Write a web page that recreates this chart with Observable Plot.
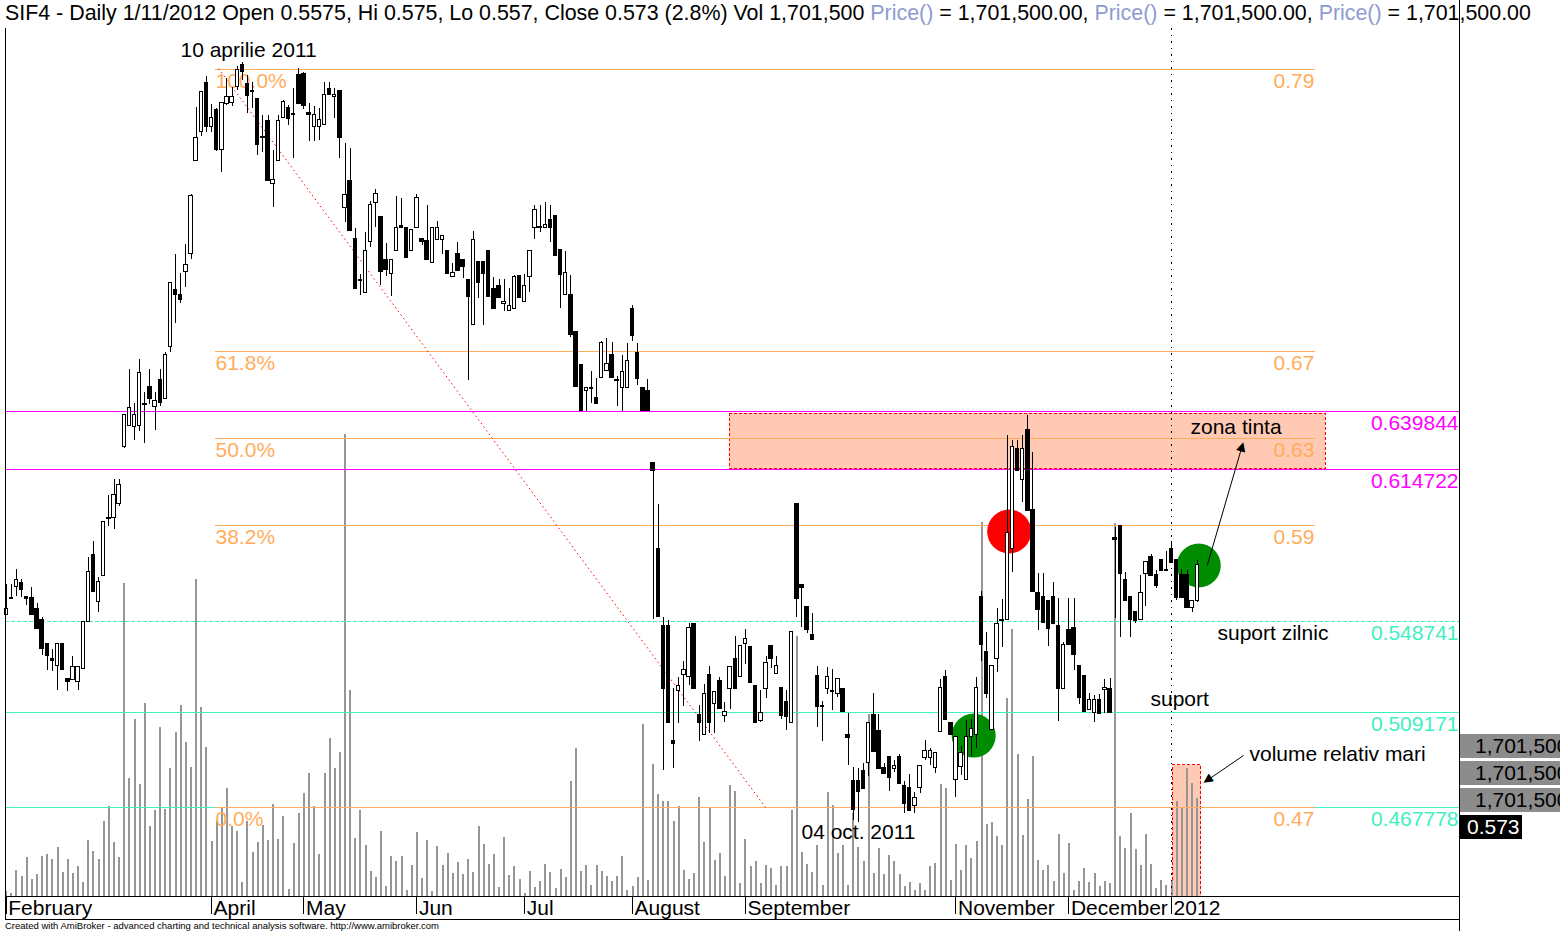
<!DOCTYPE html>
<html>
<head>
<meta charset="utf-8">
<script src="https://cdn.jsdelivr.net/npm/d3@7"></script>
<script src="https://cdn.jsdelivr.net/npm/@observablehq/plot@0.6"></script>
<style>
  html, body { margin: 0; padding: 0; background: #fff; }
  #chart { position: relative; width: 1560px; height: 931px; overflow: hidden; background: #fff; font-family: Arial, "Liberation Sans", sans-serif; }
  #chart svg { position: absolute; left: 0; top: 0; }
  #title { position: absolute; left: 5px; top: 1px; font-size: 21.4px; line-height: 24px; white-space: nowrap; color: #000; }
  #title .fn { color: #8e9bd2; }
  #credit { position: absolute; left: 5px; top: 920px; font-size: 9.5px; line-height: 11px; white-space: nowrap; color: #000; }
  .chip { position: absolute; left: 1460px; height: 24px; line-height: 24px; font-size: 21px; padding-left: 15px; box-sizing: border-box; white-space: nowrap; overflow: hidden; }
  #rborder { position: absolute; left: 1459px; top: 0; width: 1px; height: 931px; background: #000; }
</style>
</head>
<body>
<div id="chart"></div>
<script>
// ---------------- data ----------------
const opens = [
0.5515,0.5589,0.5635,0.5654,0.5594,0.5590,0.5542,0.5494,0.5386,0.5325,
0.5292,0.5386,0.5238,0.5230,0.5225,0.5279,0.5484,0.5776,0.5571,0.5682,
0.5937,0.5937,0.5998,0.6244,0.6337,0.6333,0.6337,0.6430,0.6507,0.6420,
0.6537,0.6454,0.6677,0.6927,0.6906,0.7006,0.7084,0.7488,0.7615,0.7827,
0.7636,0.7710,0.7536,0.7736,0.7737,0.7807,0.7906,0.7823,0.7791,0.7755,
0.7591,0.7662,0.7388,0.7488,0.7675,0.7718,0.7692,0.7859,0.7866,0.7697,
0.7637,0.7634,0.7645,0.7800,0.7766,0.7790,0.7284,0.7398,0.7147,0.6969,
0.6915,0.7137,0.7306,0.7245,0.7059,0.6997,0.7098,0.7203,0.7197,0.7098,
0.7197,0.7147,0.7138,0.7045,0.7145,0.7145,0.7098,0.6984,0.7084,0.7059,
0.6968,0.6775,0.7046,0.7046,0.7098,0.6929,0.6946,0.6865,0.6836,0.6845,
0.6986,0.6875,0.6984,0.7197,0.7202,0.7197,0.7229,0.7247,0.7099,0.6906,
0.6903,0.6746,0.6599,0.6489,0.6502,0.6457,0.6545,0.6575,0.6642,0.6536,
0.6499,0.6502,0.6846,0.6651,0.6499,0.6486,0.6176,0.5799,0.5468,0.5468,
0.4965,0.5185,0.5255,0.5244,0.5477,0.5081,0.4994,0.5255,0.5129,0.5226,
0.5076,0.5193,0.5321,0.5246,0.5386,0.5376,0.5207,0.5055,0.5193,0.5380,
0.5259,0.5195,0.5137,0.5046,0.5998,0.5645,0.5547,0.5425,0.5247,0.5118,
0.5192,0.5183,0.5172,0.5193,0.4994,0.4794,0.4794,0.4838,0.4872,0.5078,
0.5008,0.4847,0.4895,0.4846,0.4895,0.4773,0.4764,0.4685,0.4763,0.4894,
0.4894,0.4850,0.5007,0.5243,0.5043,0.4798,0.4854,0.4798,0.4984,0.4991,
0.5591,0.5355,0.5013,0.5321,0.5494,0.5492,0.5799,0.6237,0.6099,0.6316,
0.5969,0.5609,0.5594,0.5577,0.5594,0.5468,0.5193,0.5447,0.5458,0.5294,
0.5247,0.5103,0.5088,0.5146,0.5186,0.5193,0.5849,0.5899,0.5668,0.5594,
0.5527,0.5492,0.5693,0.5768,0.5686,0.5754,0.5708,0.5799,0.5754,0.5686,
0.5686,0.5546,0.5575];

const highs = [
0.5647,0.5647,0.5712,0.5668,0.5594,0.5633,0.5564,0.5503,0.5386,0.5362,
0.5386,0.5386,0.5238,0.5334,0.5286,0.5484,0.5764,0.5833,0.5675,0.5920,
0.6034,0.6103,0.6103,0.6385,0.6580,0.6434,0.6624,0.6483,0.6580,0.6483,
0.6580,0.6654,0.6958,0.7081,0.6997,0.7124,0.7342,0.7721,0.7790,0.7855,
0.7733,0.7715,0.7740,0.7846,0.7807,0.7898,0.7916,0.7859,0.7830,0.7758,
0.7685,0.7685,0.7533,0.7685,0.7750,0.7728,0.7801,0.7888,0.7870,0.7736,
0.7726,0.7714,0.7830,0.7830,0.7804,0.7790,0.7562,0.7541,0.7193,0.6993,
0.7176,0.7312,0.7362,0.7245,0.7127,0.7058,0.7334,0.7324,0.7197,0.7186,
0.7342,0.7147,0.7294,0.7197,0.7225,0.7160,0.7098,0.7041,0.7132,0.7059,
0.6968,0.7181,0.7046,0.7046,0.7098,0.6981,0.6974,0.6972,0.6933,0.6990,
0.6986,0.6993,0.7098,0.7294,0.7294,0.7306,0.7294,0.7247,0.7099,0.7095,
0.6990,0.6746,0.6599,0.6504,0.6573,0.6541,0.6702,0.6716,0.6697,0.6551,
0.6642,0.6694,0.6859,0.6694,0.6499,0.6538,0.6176,0.5995,0.5502,0.5490,
0.5194,0.5244,0.5313,0.5478,0.5477,0.5121,0.5211,0.5291,0.5181,0.5242,
0.5134,0.5290,0.5421,0.5380,0.5451,0.5376,0.5207,0.5186,0.5334,0.5380,
0.5334,0.5195,0.5186,0.5440,0.5998,0.5645,0.5547,0.5519,0.5291,0.5139,
0.5286,0.5276,0.5240,0.5193,0.5086,0.4852,0.4847,0.4868,0.5046,0.5172,
0.5082,0.4869,0.4895,0.4882,0.4908,0.4791,0.4820,0.4743,0.4856,0.4969,
0.4934,0.4916,0.5234,0.5273,0.5043,0.4984,0.4943,0.5056,0.5060,0.5244,
0.5617,0.5438,0.5292,0.5541,0.5581,0.6295,0.6273,0.6273,0.6295,0.6382,
0.6219,0.5693,0.5693,0.5577,0.5654,0.5587,0.5396,0.5587,0.5587,0.5294,
0.5247,0.5172,0.5165,0.5168,0.5233,0.5238,0.5896,0.5899,0.5700,0.5594,
0.5527,0.5686,0.5744,0.5777,0.5708,0.5754,0.5792,0.5832,0.5754,0.5711,
0.5708,0.5575,0.5750];

const lows = [
0.5513,0.5584,0.5596,0.5590,0.5557,0.5515,0.5452,0.5338,0.5273,0.5270,
0.5186,0.5275,0.5183,0.5230,0.5186,0.5279,0.5484,0.5613,0.5526,0.5682,
0.5900,0.5884,0.5987,0.6237,0.6337,0.6273,0.6312,0.6259,0.6427,0.6315,
0.6420,0.6454,0.6656,0.6780,0.6869,0.6939,0.7060,0.7488,0.7594,0.7612,
0.7611,0.7530,0.7439,0.7730,0.7725,0.7794,0.7837,0.7694,0.7714,0.7511,
0.7526,0.7401,0.7287,0.7488,0.7675,0.7642,0.7497,0.7736,0.7711,0.7572,
0.7572,0.7577,0.7645,0.7775,0.7671,0.7498,0.7218,0.7184,0.6931,0.6902,
0.6915,0.7109,0.7200,0.6946,0.6987,0.6900,0.7098,0.7195,0.7065,0.7098,
0.7197,0.7118,0.7056,0.7045,0.7145,0.7080,0.6996,0.6984,0.7010,0.6978,
0.6534,0.6775,0.6889,0.6771,0.6897,0.6843,0.6891,0.6832,0.6836,0.6845,
0.6891,0.6875,0.6917,0.7148,0.7177,0.7197,0.7135,0.7073,0.6848,0.6906,
0.6722,0.6504,0.6399,0.6399,0.6435,0.6432,0.6545,0.6575,0.6544,0.6418,
0.6399,0.6502,0.6704,0.6513,0.6399,0.6399,0.5494,0.5504,0.4838,0.5044,
0.4848,0.5042,0.5118,0.5208,0.5193,0.4966,0.4994,0.4998,0.4998,0.5105,
0.5049,0.5104,0.5192,0.5246,0.5299,0.5220,0.5044,0.5049,0.5150,0.5280,
0.5259,0.5059,0.5010,0.5046,0.5504,0.5460,0.5432,0.5405,0.5027,0.4965,
0.5168,0.5097,0.5155,0.5092,0.4860,0.4621,0.4613,0.4756,0.4812,0.4919,
0.4844,0.4822,0.4748,0.4830,0.4779,0.4650,0.4662,0.4650,0.4740,0.4882,
0.4860,0.4824,0.5007,0.5056,0.4991,0.4720,0.4817,0.4798,0.4897,0.4934,
0.5314,0.5150,0.5013,0.5262,0.5374,0.5492,0.5698,0.6138,0.6005,0.5966,
0.5613,0.5447,0.5478,0.5377,0.5473,0.5053,0.5193,0.5385,0.5273,0.5126,
0.5092,0.5103,0.5049,0.5085,0.5085,0.5088,0.5497,0.5418,0.5573,0.5418,
0.5478,0.5492,0.5551,0.5682,0.5628,0.5704,0.5704,0.5738,0.5577,0.5587,
0.5546,0.5527,0.5570];

const closes = [
0.5541,0.5584,0.5668,0.5622,0.5583,0.5515,0.5452,0.5365,0.5334,0.5314,
0.5386,0.5275,0.5222,0.5286,0.5286,0.5484,0.5702,0.5613,0.5658,0.5920,
0.5933,0.6037,0.6077,0.6385,0.6415,0.6385,0.6567,0.6426,0.6454,0.6446,
0.6437,0.6646,0.6958,0.6906,0.6884,0.7036,0.7336,0.7586,0.7788,0.7634,
0.7675,0.7536,0.7738,0.7764,0.7766,0.7881,0.7873,0.7769,0.7787,0.7557,
0.7587,0.7401,0.7406,0.7662,0.7744,0.7668,0.7688,0.7736,0.7726,0.7685,
0.7688,0.7666,0.7775,0.7775,0.7776,0.7587,0.7338,0.7184,0.6931,0.6965,
0.7098,0.7297,0.7345,0.7006,0.7013,0.7058,0.7197,0.7195,0.7065,0.7186,
0.7328,0.7135,0.7056,0.7197,0.7197,0.7160,0.6996,0.7001,0.7010,0.7026,
0.6897,0.7142,0.6956,0.6996,0.6897,0.6843,0.6891,0.6875,0.6858,0.6981,
0.6891,0.6945,0.7098,0.7273,0.7198,0.7207,0.7197,0.7073,0.6992,0.6999,
0.6730,0.6504,0.6399,0.6499,0.6498,0.6432,0.6698,0.6603,0.6544,0.6532,
0.6572,0.6616,0.6726,0.6540,0.6399,0.6399,0.6142,0.5504,0.5193,0.5044,
0.4953,0.5207,0.5277,0.5458,0.5193,0.5044,0.5172,0.5044,0.5181,0.5105,
0.5092,0.5290,0.5192,0.5380,0.5411,0.5220,0.5044,0.5086,0.5307,0.5322,
0.5294,0.5076,0.5072,0.5440,0.5584,0.5632,0.5451,0.5405,0.5114,0.5114,
0.5246,0.5179,0.5237,0.5092,0.4980,0.4665,0.4744,0.4756,0.5046,0.4919,
0.4844,0.4822,0.4805,0.4856,0.4779,0.4692,0.4662,0.4720,0.4856,0.4921,
0.4925,0.4916,0.5195,0.5056,0.4991,0.4984,0.4916,0.4982,0.5017,0.5195,
0.5385,0.5169,0.5292,0.5476,0.5486,0.5872,0.6244,0.6138,0.6237,0.5966,
0.5613,0.5537,0.5478,0.5453,0.5473,0.5193,0.5385,0.5385,0.5341,0.5155,
0.5092,0.5146,0.5146,0.5085,0.5195,0.5088,0.5839,0.5693,0.5573,0.5492,
0.5490,0.5609,0.5744,0.5682,0.5639,0.5704,0.5704,0.5738,0.5587,0.5587,
0.5546,0.5575,0.5730];

const volumes = [
87000,47000,450000,346000,670000,294000,381000,692000,727000,640000,
848000,415000,635000,393000,519000,242000,964000,779000,635000,1298000,
1558000,935000,675000,5413000,2037000,3064000,1934000,3341000,1212000,1489000,
2925000,1506000,2216000,2839000,3306000,2666000,2233000,5482000,3277000,2579000,
957000,1298000,1523000,1869000,1206000,1125000,242000,1293000,762000,935000,
1234000,969000,1593000,992000,1385000,126000,917000,1442000,1783000,2134000,
1563000,727000,2134000,2735000,2216000,2498000,7997000,3566000,1009000,1489000,
883000,433000,334000,1125000,178000,698000,606000,698000,104000,542000,
1108000,312000,969000,87000,871000,537000,744000,403000,589000,381000,
646000,421000,1212000,900000,559000,727000,156000,1026000,364000,519000,
289000,57000,428000,156000,260000,554000,415000,138000,467000,329000,
1996000,2557000,433000,537000,190000,537000,433000,346000,260000,346000,
692000,104000,173000,334000,2977000,277000,2285000,1766000,1644000,1644000,
1298000,1558000,450000,294000,403000,1708000,935000,1518000,623000,739000,
346000,1921000,1818000,220000,981000,519000,606000,220000,537000,479000,
190000,519000,519000,1489000,4501000,767000,549000,421000,878000,190000,
1800000,1575000,750000,878000,190000,1432000,853000,606000,3150000,403000,
836000,376000,710000,606000,376000,173000,248000,104000,220000,104000,
519000,576000,1934000,1864000,277000,895000,450000,883000,663000,952000,
6479000,1246000,1286000,1039000,883000,3422000,4622000,2453000,1056000,1674000,
2423000,623000,450000,537000,260000,1068000,403000,923000,104000,260000,
479000,248000,393000,173000,260000,220000,6451000,1039000,836000,1432000,
808000,537000,1068000,549000,144000,277000,190000,277000,1650000,1546000,
2210000,1951000,1701500];

// month axis: bar index of the first session of each labelled month
const monthTickIdx = [0, 40, 58, 80, 101, 122, 144, 185, 207, 227];
const monthLabels = ["February", "April", "May", "Jun", "Jul", "August", "September", "November", "December", "2012"];

// Fibonacci retracement drawn from the April high to the October low
const fibRatios = ["100.0%", "61.8%", "50.0%", "38.2%", "0.0%"];
const fibValues = [0.7885, 0.6660, 0.6281, 0.5903, 0.4678];
const fibValueLabels = ["0.79", "0.67", "0.63", "0.59", "0.47"];
const fibSpan = [40.77, 255.0];          // bar positions where the study lines start / end
const fibTrend = [{x1: 41.35, y1: 0.7889, x2: 147.9, y2: 0.4678}];

// horizontal study levels
const levelValues = [0.639844, 0.614722, 0.548741, 0.509171, 0.467778];
const levelColors = ["#ff00ff", "#ff00ff", "#40f0c0", "#40f0c0", "#40f0c0"];
const levelDashed = [false, false, true, false, false];

// rectangles
const targetZone = [{x1: 140.9, x2: 257.0, y1: 0.614722, y2: 0.6388}];
const volumeZone = [{x1: 227.2, x2: 232.8, y1: 0, y2: 2270000}];

// circles
const circles = [
  {x: 195.36, y: 0.5877, color: "#ff0000"},
  {x: 188.45, y: 0.4990, color: "#008c00"},
  {x: 232.29, y: 0.5729, color: "#008c00"}
];

// notes
const notes = [
  {x: 33.95, y: 0.7970, text: "10 aprilie 2011"},
  {x: 154.9, y: 0.4569, text: "04 oct. 2011"},
  {x: 230.68, y: 0.6329, text: "zona tinta"},
  {x: 235.94, y: 0.5434, text: "suport zilnic"},
  {x: 222.88, y: 0.5147, text: "suport"},
  {x: 242.17, y: 0.4908, text: "volume relativ mari"}
];

// arrows (start -> head)
const arrows = [
  {x1: 233.93, y1: 0.57291, hx: 240.73, hy: 0.62472, angle: 16.3},
  {x1: 241.0, y1: 0.49035, hx: 233.92, hy: 0.47953, angle: -124.4}
];

const yearSeparator = [227];

// ---------------- build ----------------
const candles = opens.map((open, i) => ({i, open, high: highs[i], low: lows[i], close: closes[i], volume: volumes[i]}));
const months = monthTickIdx.map((i, k) => ({i, label: monthLabels[k]}));
const fibs = fibValues.map((value, k) => ({value, ratio: fibRatios[k], label: fibValueLabels[k]}));
const levels = levelValues.map((value, k) => ({value, color: levelColors[k], dashed: levelDashed[k]}));

const W = 1560, H = 931;
const xDomain = [-0.136, 283.27];
const priceDomain = [0.419073, 0.806292];
const volumeDomain = [0, 15025000];
const orange = "#ffad5b";
const font = "Arial, 'Liberation Sans', sans-serif";
const style = {background: "transparent", overflow: "visible", fontFamily: font};
const crisp = "crispEdges";

const volPlot = Plot.plot({
  width: W, height: H, marginLeft: 5, marginRight: 100, marginTop: 28, marginBottom: 35,
  x: {domain: xDomain, axis: null},
  y: {domain: volumeDomain, range: [896, 28], axis: null},
  style,
  marks: [
    Plot.rect(volumeZone, {x1: "x1", x2: "x2", y1: "y1", y2: "y2", fill: "#ffc9b4", stroke: "#ff0000", strokeDasharray: "3,2", shapeRendering: crisp}),
    Plot.ruleX(candles, {x: "i", y1: () => 0, y2: "volume", stroke: "#969696", strokeWidth: 2, shapeRendering: crisp}),
    Plot.ruleY([0], {stroke: "#000", shapeRendering: crisp})
  ]
});

const pricePlot = Plot.plot({
  width: W, height: H, marginLeft: 5, marginRight: 100, marginTop: 28, marginBottom: 12,
  x: {domain: xDomain, axis: null},
  y: {domain: priceDomain, axis: null},
  color: {type: "identity"},
  style,
  marks: [
    Plot.rect(targetZone, {x1: "x1", x2: "x2", y1: "y1", y2: "y2", fill: "#ffc9b4", shapeRendering: crisp}),
    Plot.ruleY(levels.filter(d => !d.dashed), {y: "value", stroke: "color", shapeRendering: crisp}),
    Plot.ruleY(levels.filter(d => d.dashed), {y: "value", stroke: "color", strokeDasharray: "4,2", shapeRendering: crisp}),
    Plot.rect(targetZone, {x1: "x1", x2: "x2", y1: "y1", y2: "y2", fill: "none", stroke: "#ff0000", strokeDasharray: "3,2", shapeRendering: crisp}),
    Plot.ruleY(fibs, {y: "value", x1: () => fibSpan[0], x2: () => fibSpan[1], stroke: orange, shapeRendering: crisp}),
    Plot.link(fibTrend, {x1: "x1", y1: "y1", x2: "x2", y2: "y2", stroke: "#ff0000", strokeDasharray: "1.5,3"}),
    Plot.text(fibs, {x: () => fibSpan[0], y: "value", text: "ratio", textAnchor: "start", dy: 12, fill: orange, fontSize: 21}),
    Plot.text(fibs, {x: () => fibSpan[1], y: "value", text: "label", textAnchor: "end", dx: -1, dy: 12, fill: orange, fontSize: 21}),
    Plot.text(levels, {y: "value", text: d => d.value.toFixed(6), frameAnchor: "right", textAnchor: "end", dx: -2, dy: 12, fill: "color", fontSize: 21}),
    Plot.dot(circles, {x: "x", y: "y", r: 22, fill: "color", stroke: null}),
    Plot.ruleX(yearSeparator, {stroke: "#000", strokeDasharray: "1.5,5", insetBottom: 20, shapeRendering: crisp}),
    Plot.ruleX(candles, {x: "i", y1: "low", y2: "high", stroke: "#000", shapeRendering: crisp}),
    Plot.rect(candles, {
      x1: d => d.i - 0.33, x2: d => d.i + 0.33, y1: "open", y2: "close",
      fill: d => d.close >= d.open ? "#ffffff" : "#000000", stroke: "#000", shapeRendering: crisp
    }),
    Plot.text(notes, {x: "x", y: "y", text: "text", textAnchor: "start", fill: "#000", fontSize: 21}),
    Plot.link(arrows, {x1: "x1", y1: "y1", x2: "hx", y2: "hy", stroke: "#000"}),
    Plot.text(arrows, {x: "hx", y: "hy", text: () => "\u25B2", rotate: "angle", fontSize: 16, fill: "#000"}),
    Plot.ruleX([xDomain[0]], {stroke: "#000", shapeRendering: crisp}),
    Plot.ruleY([priceDomain[0]], {stroke: "#000", shapeRendering: crisp}),
    Plot.ruleX(months, {x: "i", insetTop: 868, insetBottom: 5, stroke: "#000", shapeRendering: crisp}),
    Plot.text(months, {x: "i", text: "label", frameAnchor: "bottom", textAnchor: "start", dx: 2, dy: -5, fill: "#000", fontSize: 21})
  ]
});

const chart = document.getElementById("chart");
chart.appendChild(volPlot);
chart.appendChild(pricePlot);

// header line
const last = candles[candles.length - 1], prev = candles[candles.length - 2];
const fmtVol = d3.format(",");
const fmtVal = d3.format(",.2f");
const chg = ((last.close - prev.close) / prev.close * 100).toFixed(1);
const title = document.createElement("div");
title.id = "title";
let html = `SIF4 - Daily 1/11/2012 Open ${last.open}, Hi ${last.high}, Lo ${last.low}, Close ${last.close} (${chg}%) Vol ${fmtVol(last.volume)} `;
html += [0, 1, 2].map(() => `<span class="fn">Price()</span> = ${fmtVal(last.volume)}`).join(", ");
title.innerHTML = html;
chart.appendChild(title);

const credit = document.createElement("div");
credit.id = "credit";
credit.textContent = "Created with AmiBroker - advanced charting and technical analysis software. http://www.amibroker.com";
chart.appendChild(credit);

// value chips on the right (the reference crops them at the picture edge)
const chipTops = [734, 761, 788];
chipTops.forEach(t => {
  const c = document.createElement("div");
  c.className = "chip";
  c.style.top = t + "px"; c.style.width = "100px"; c.style.background = "#8c8c8c"; c.style.color = "#000";
  c.textContent = fmtVol(last.volume);
  chart.appendChild(c);
});
const pc = document.createElement("div");
pc.className = "chip";
pc.style.top = "815px"; pc.style.width = "62px"; pc.style.background = "#000"; pc.style.color = "#fff"; pc.style.paddingLeft = "7px";
pc.textContent = last.close.toFixed(3);
chart.appendChild(pc);

const rb = document.createElement("div");
rb.id = "rborder";
chart.appendChild(rb);
</script>
</body>
</html>
